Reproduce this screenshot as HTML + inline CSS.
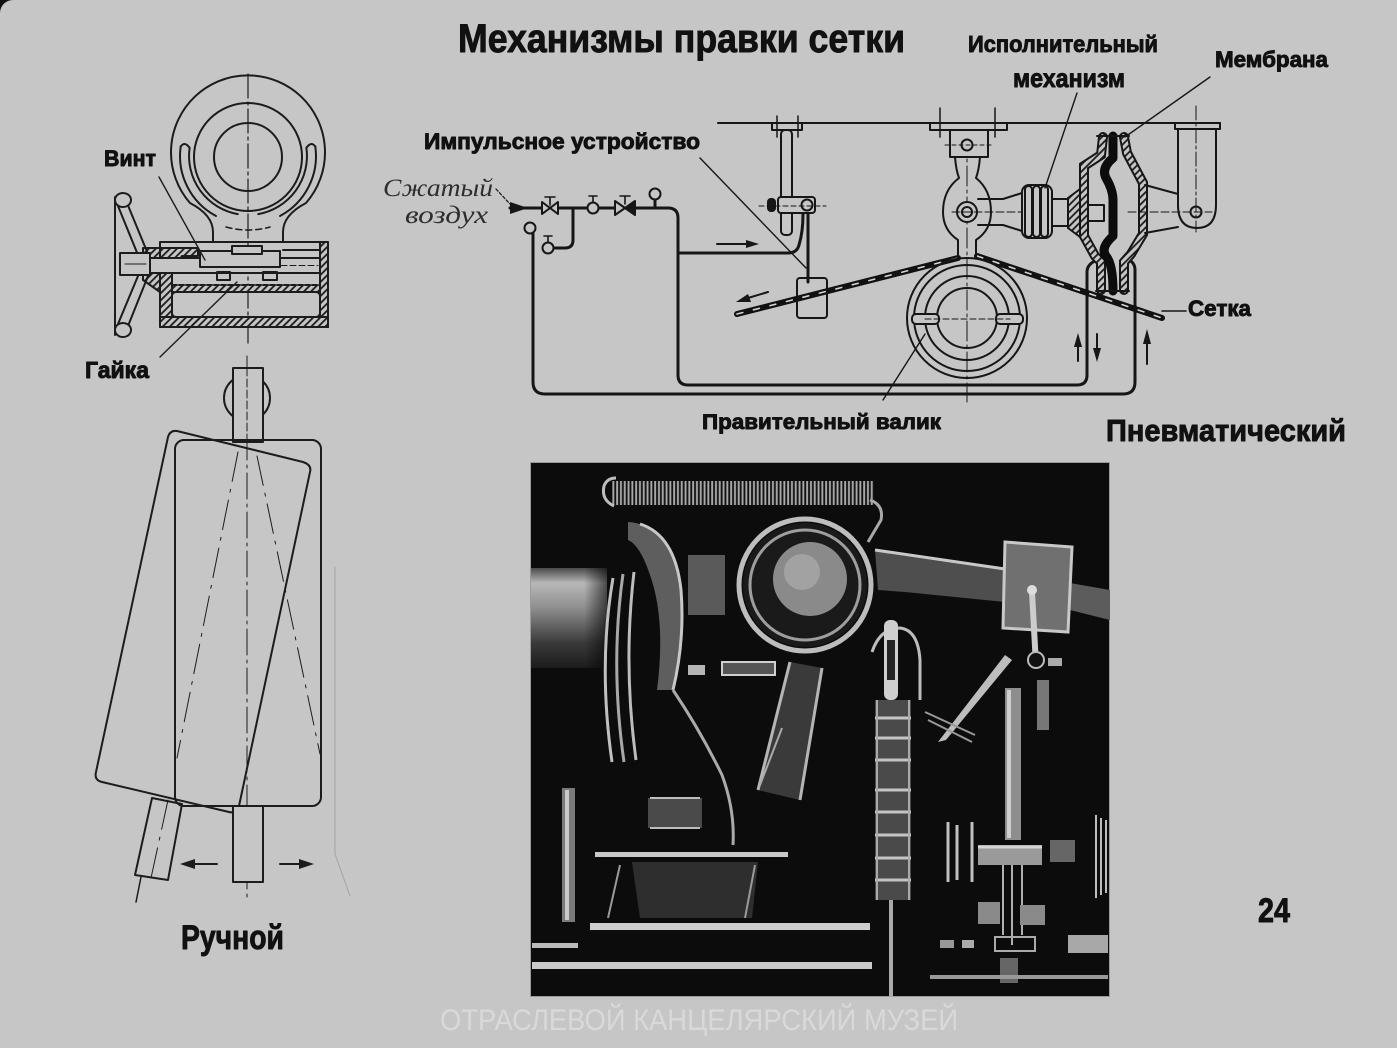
<!DOCTYPE html>
<html><head><meta charset="utf-8"><title>Механизмы правки сетки</title>
<style>
html,body{margin:0;padding:0;background:#c6c6c6;overflow:hidden;}
svg{display:block;}
.t{font-family:"Liberation Sans","DejaVu Sans",sans-serif;font-weight:bold;fill:#111;stroke:#111;stroke-width:0.9px;stroke-linejoin:round;}
.it{font-family:"Liberation Serif","DejaVu Serif",serif;font-style:italic;fill:#2e2e2e;}
.wm{font-family:"Liberation Sans","DejaVu Sans",sans-serif;fill:#d9d9d9;}
</style></head><body>
<svg width="1397" height="1048" viewBox="0 0 1397 1048" xmlns="http://www.w3.org/2000/svg">
<defs>
<pattern id="hat" width="5" height="5" patternUnits="userSpaceOnUse" patternTransform="rotate(45)">
<rect width="5" height="5" fill="#c6c6c6"/><line x1="1" y1="0" x2="1" y2="5" stroke="#1a1a1a" stroke-width="1.8"/>
</pattern>
<pattern id="spring" width="3.8" height="40" patternUnits="userSpaceOnUse">
<rect width="3.8" height="40" fill="#121212"/><rect x="0.6" width="1.9" height="40" fill="#a9a9a9"/>
</pattern>
<linearGradient id="cyl" x1="0" y1="0" x2="0" y2="1">
<stop offset="0" stop-color="#4a4a4a"/><stop offset="0.15" stop-color="#b8b8b8"/><stop offset="0.4" stop-color="#8e8e8e"/><stop offset="0.75" stop-color="#3a3a3a"/><stop offset="1" stop-color="#1c1c1c"/>
</linearGradient>
<linearGradient id="cylh" x1="0" y1="0" x2="1" y2="0">
<stop offset="0" stop-color="#000" stop-opacity="0"/><stop offset="0.7" stop-color="#000" stop-opacity="0"/><stop offset="1" stop-color="#000" stop-opacity="0.6"/>
</linearGradient>
</defs>

<rect x="0" y="0" width="1397" height="1048" fill="#c6c6c6"/>
<path d="M0,0 H13 A13,13 0 0 0 0,13 Z" fill="#111"/>

<!-- ============ Upper-left mechanism (hand) ============ -->
<g fill="none" stroke="#1c1c1c" stroke-width="2" stroke-linecap="round" stroke-linejoin="round">
 <line x1="248" y1="74" x2="248" y2="345" stroke-width="1.2" stroke-dasharray="24 4 3 4"/>
 <path d="M213,242 L213,232 Q213,215 190,203 A77,77 0 1 1 306,203 Q283,215 283,232 L283,242"/>
 <circle cx="248" cy="157" r="54"/>
 <circle cx="248" cy="157" r="34"/>
 <path d="M189.6,147.8 A59,59 0 0 0 237.8,214.1"/>
 <path d="M180.7,146.5 A68,68 0 0 0 216,216"/>
 <path d="M180.7,146.5 Q185,141 189.6,147.8"/>
 <path d="M306.4,147.8 A59,59 0 0 1 258.2,214.1"/>
 <path d="M315.3,146.5 A68,68 0 0 1 280,216"/>
 <path d="M315.3,146.5 Q311,141 306.4,147.8"/>
 <path d="M226,227 Q248,233 270,227" stroke-dasharray="6 4" stroke-width="1.5"/>

 <rect x="320" y="242" width="8" height="85" fill="url(#hat)"/>
 <rect x="160" y="317" width="168" height="10" fill="url(#hat)"/>
 <rect x="172" y="285" width="148" height="7" fill="url(#hat)" stroke-dasharray="5 2"/>
 <path d="M143,248 H198 V256 H182 L172,270 V317 H160 V292 L143,280 Z" fill="url(#hat)"/>
 <path d="M160,242 H328 V327 H160 Z"/>
 <rect x="172" y="292" width="148" height="25" rx="4"/>
 <line x1="283" y1="250" x2="320" y2="250"/>

 <rect x="120" y="258" width="200" height="15" fill="#c6c6c6"/>
 <line x1="200" y1="265.5" x2="318" y2="265.5" stroke-width="1" stroke-dasharray="6 3"/>
 <rect x="200" y="251" width="80" height="16" fill="#c6c6c6"/>
 <rect x="232" y="246" width="30" height="8" fill="#c6c6c6"/>
 <rect x="217" y="272" width="13" height="8"/>
 <rect x="263" y="272" width="14" height="8"/>

 <line x1="115" y1="197" x2="115" y2="335"/>
 <path d="M118,206 L138,255 M127,203 L148,254"/>
 <path d="M138,276 L118,324 M148,276 L128,326"/>
 <ellipse cx="123" cy="200" rx="8" ry="7" fill="#c6c6c6"/>
 <ellipse cx="123" cy="330" rx="8" ry="7" fill="#c6c6c6"/>
 <rect x="120" y="253" width="30" height="22" fill="#c6c6c6"/>
 <line x1="125" y1="264" x2="146" y2="264" stroke-width="1"/>

 <line x1="159" y1="177" x2="205" y2="260" stroke-width="1.4"/>
 <line x1="160" y1="357" x2="237" y2="282" stroke-width="1.4"/>
</g>

<!-- ============ Lower-left roller (hand) ============ -->
<g fill="none" stroke="#1c1c1c" stroke-width="2" stroke-linecap="round" stroke-linejoin="round">
 <line x1="247" y1="356" x2="247" y2="898" stroke-width="1" stroke-dasharray="26 5 3 5"/>
 <circle cx="247" cy="398" r="23"/>
 <rect x="233" y="368" width="30" height="74" fill="#c6c6c6"/>
 <line x1="247" y1="368" x2="247" y2="442" stroke-width="1" stroke-dasharray="8 3"/>
 <path d="M177,431 L303,462 Q312,465 310,472 L239,806 Q237,814 229,812 L102,782 Q94,780 96,772 L168,437 Q170,430 177,431 Z"/>
 <rect x="175" y="440" width="146" height="366" rx="9"/>
 <rect x="233" y="806" width="30" height="76" fill="#c6c6c6"/>
 <path d="M152,798 L182,804 L168,880 L135,875 Z"/>
 <line x1="141" y1="877" x2="136" y2="902" stroke-width="1.5"/>
 <g stroke-width="1" stroke-dasharray="30 8 3 8">
  <line x1="238" y1="452" x2="177" y2="758"/>
  <line x1="257" y1="456" x2="320" y2="754"/>
  <line x1="168" y1="800" x2="151" y2="878"/>
 </g>
 <line x1="193" y1="864" x2="217" y2="864"/>
 <polygon points="180,864 195,859 195,869" fill="#1c1c1c" stroke="none"/>
 <line x1="280" y1="864" x2="301" y2="864"/>
 <polygon points="314,864 299,859 299,869" fill="#1c1c1c" stroke="none"/>
 <path d="M335,567 L335,854 L350,896" stroke="#a4a4a4" stroke-width="1"/>
</g>

<!-- ============ Pneumatic diagram ============ -->
<g fill="none" stroke="#161616" stroke-width="2" stroke-linecap="round" stroke-linejoin="round">
 <line x1="718" y1="123" x2="1220" y2="123"/>
 <g stroke-width="3">
  <path d="M533,234 V382 Q533,394 545,394 H1123 Q1135,394 1135,382 V270 Q1135,262 1127,259"/>
  <path d="M510,208 H668 Q678,208 678,218 V375 Q678,385 688,385 H1077 Q1087,385 1087,375 V272 Q1087,264 1097,260"/>
  <path d="M678,253 H788 Q797,253 799,245 Q803,232 803,214"/>
  <line x1="808" y1="213" x2="808" y2="282"/>
  <path d="M573,208 V240 Q573,248 565,248 H554"/>
  <line x1="655" y1="200" x2="655" y2="208"/>
 </g>
 <circle cx="530" cy="228" r="5.5" fill="#c6c6c6"/>
 <circle cx="548" cy="248" r="5.5" fill="#c6c6c6"/>
 <circle cx="593" cy="208" r="5.5" fill="#c6c6c6"/>
 <circle cx="655" cy="194" r="5.5" fill="#c6c6c6"/>
 <path d="M542,202 L550,208 L542,214 Z M558,202 L550,208 L558,214 Z" fill="#c6c6c6"/>
 <path d="M615,201 L625,208 L615,215 Z" fill="#c6c6c6"/>
 <path d="M635,201 L625,208 L635,215 Z" fill="#161616"/>
 <path d="M550,205 V197 M545,197 H555 M625,204 V196 M620,196 H630 M593,202 V196 M589,196 H597 M548,242 V236 M544,236 H552" stroke-width="1.6"/>
 <polygon points="510,202 528,208 510,214" fill="#161616" stroke="none"/>
 <line x1="496" y1="189" x2="510" y2="204" stroke-width="1.2" stroke-dasharray="3 2"/>

 <rect x="772" y="123" width="30" height="7" fill="#c6c6c6"/>
 <path d="M777,116 V137 M798,116 V137" stroke-width="1.5"/>
 <rect x="781" y="130" width="11" height="105" rx="4" fill="#c6c6c6"/>
 <rect x="778" y="197" width="37" height="16" rx="3" fill="#c6c6c6"/>
 <rect x="768" y="199" width="7" height="12" rx="3" fill="#161616"/>
 <circle cx="807" cy="205" r="5.5" fill="#c6c6c6"/>
 <line x1="759" y1="206" x2="826" y2="206" stroke-width="1" stroke-dasharray="5 3"/>
 <rect x="797" y="278" width="30" height="40" rx="3"/>
 <line x1="700" y1="158" x2="806" y2="268" stroke-width="1.4"/>
 <line x1="717" y1="244" x2="748" y2="244"/>
 <polygon points="759,244 746,240 746,248" fill="#161616" stroke="none"/>
 <line x1="768" y1="292" x2="748" y2="298"/>
 <polygon points="736,302 748,294 751,302" fill="#161616" stroke="none"/>

 <path d="M737,314 L958,258" stroke="#111" stroke-width="6"/>
 <path d="M977,256 L1162,318" stroke="#111" stroke-width="6"/>
 <path d="M737,314 L958,258" stroke="#d2d2d2" stroke-width="1.6" stroke-dasharray="6 11"/>
 <path d="M977,256 L1162,318" stroke="#d2d2d2" stroke-width="1.6" stroke-dasharray="6 11"/>

 <line x1="967" y1="135" x2="967" y2="402" stroke-width="1" stroke-dasharray="20 4 3 4"/>
 <circle cx="967" cy="318" r="60"/>
 <circle cx="967" cy="318" r="53"/>
 <circle cx="967" cy="318" r="42"/>
 <circle cx="967" cy="318" r="30"/>
 <rect x="912" y="314" width="27" height="10" rx="4" fill="#c6c6c6"/>
 <rect x="996" y="314" width="27" height="10" rx="4" fill="#c6c6c6"/>
 <line x1="925" y1="319" x2="1010" y2="319" stroke-width="1" stroke-dasharray="6 3"/>
 <line x1="883" y1="400" x2="925" y2="334" stroke-width="1.4"/>

 <rect x="930" y="123" width="77" height="7" fill="#c6c6c6"/>
 <path d="M940,108 V137 M995,108 V137" stroke-width="1.5"/>
 <rect x="950" y="130" width="38" height="27" fill="#c6c6c6"/>
 <circle cx="967" cy="145" r="5.5"/>
 <line x1="945" y1="145" x2="992" y2="145" stroke-width="1" stroke-dasharray="4 3"/>
 <path d="M955,157 Q956,170 959,178 Q943,190 943,212 Q943,230 958,240 L958,258"/>
 <path d="M980,157 Q979,170 976,178 Q991,190 991,212 Q991,230 976,240 L976,258"/>
 <path d="M978,199 H1003 L1022,193 M978,225 H1003 L1022,231"/>
 <circle cx="967" cy="212" r="10" fill="#c6c6c6"/>
 <circle cx="967" cy="212" r="5"/>
 <line x1="952" y1="212" x2="1062" y2="212" stroke-width="1" stroke-dasharray="8 3"/>

 <rect x="1022" y="185" width="30" height="53" rx="7" fill="#c6c6c6"/>
 <rect x="1025" y="186" width="7" height="51" rx="3.5"/>
 <rect x="1033" y="186" width="7" height="51" rx="3.5"/>
 <rect x="1041" y="186" width="7" height="51" rx="3.5"/>
 <rect x="1052" y="199" width="16" height="27" fill="#c6c6c6"/>
 <rect x="1068" y="205" width="36" height="16" fill="#c6c6c6"/>
 <path d="M1068,198 L1084,186 V240 L1068,228 Z" fill="url(#hat)"/>

 <path d="M1103,137 L1101,155 L1084,166 L1084,236 L1095,256 L1101,262 L1101,290" stroke="#161616" stroke-width="10" stroke-linejoin="miter"/>
 <path d="M1103,137 L1101,155 L1084,166 L1084,236 L1095,256 L1101,262 L1101,290" stroke="url(#hat)" stroke-width="6" stroke-linejoin="miter"/>
 <path d="M1124,137 L1127,153 L1143,183 L1143,234 L1131,254 L1124,262 L1124,290" stroke="#161616" stroke-width="10" stroke-linejoin="miter"/>
 <path d="M1124,137 L1127,153 L1143,183 L1143,234 L1131,254 L1124,262 L1124,290" stroke="url(#hat)" stroke-width="6" stroke-linejoin="miter"/>
 <path d="M1113,136 L1113,158 Q1101,168 1106,178 Q1113,190 1113,200 L1113,236 Q1100,248 1106,256 Q1113,264 1113,291" stroke="#0c0c0c" stroke-width="9"/>
 <line x1="1097" y1="136" x2="1129" y2="136"/>
 <line x1="1096" y1="291" x2="1129" y2="291"/>

 <rect x="1175" y="123" width="45" height="6" fill="#c6c6c6"/>
 <path d="M1178,129 V205 Q1178,228 1197,228 Q1216,228 1216,205 V129"/>
 <circle cx="1196" cy="212" r="5.5"/>
 <line x1="1196" y1="106" x2="1196" y2="232" stroke-width="1" stroke-dasharray="14 3 3 3"/>
 <line x1="1128" y1="212" x2="1212" y2="212" stroke-width="1" stroke-dasharray="8 3"/>
 <path d="M1145,185 L1178,194 M1145,233 L1178,227"/>

 <line x1="1078" y1="345" x2="1078" y2="361"/>
 <polygon points="1078,333 1074,347 1082,347" fill="#161616" stroke="none"/>
 <line x1="1097" y1="334" x2="1097" y2="350"/>
 <polygon points="1097,362 1093,348 1101,348" fill="#161616" stroke="none"/>
 <line x1="1147" y1="342" x2="1147" y2="364"/>
 <polygon points="1147,329 1143,344 1151,344" fill="#161616" stroke="none"/>

 <line x1="1077" y1="93" x2="1045" y2="188" stroke-width="1.4"/>
 <line x1="1210" y1="77" x2="1125" y2="137" stroke-width="1.4"/>
 <line x1="1162" y1="311" x2="1186" y2="311" stroke-width="1.6"/>
</g>

<!-- ============ Photo ============ -->
<g>
 <rect x="530" y="462" width="580" height="535" fill="#0c0c0c"/>
 <rect x="530.5" y="462.5" width="579" height="534" fill="none" stroke="#9a9a9a" stroke-width="1"/>
 <rect x="612" y="481" width="262" height="24" fill="url(#spring)"/>
 <path d="M614,506 Q601,500 604,486 Q607,478 616,478" stroke="#bdbdbd" stroke-width="3" fill="none"/>
 <path d="M870,500 Q884,505 881,520 L868,542" stroke="#a8a8a8" stroke-width="3" fill="none"/>
 <rect x="531" y="568" width="76" height="100" fill="url(#cyl)"/>
 <rect x="531" y="568" width="76" height="100" fill="url(#cylh)"/>
 <path d="M628,522 Q672,525 681,590 Q685,640 673,690 L657,690 Q666,620 650,575 Q640,545 628,540 Z" fill="#5e5e5e"/>
 <path d="M640,524 Q675,535 681,590 Q685,640 673,690" stroke="#c8c8c8" stroke-width="3" fill="none"/>
 <path d="M613,578 Q598,665 612,762" stroke="#c0c0c0" stroke-width="3" fill="none"/>
 <path d="M623,574 Q610,665 624,762" stroke="#a8a8a8" stroke-width="3" fill="none"/>
 <path d="M634,572 Q623,665 636,760" stroke="#bdbdbd" stroke-width="3" fill="none"/>
 <path d="M673,690 Q700,730 722,775 Q735,810 733,845" stroke="#aaaaaa" stroke-width="3" fill="none"/>
 <rect x="688" y="555" width="37" height="60" fill="#5a5a5a"/>
 <circle cx="805" cy="585" r="62" fill="#1a1a1a"/>
 <circle cx="805" cy="585" r="66" fill="none" stroke="#bdbdbd" stroke-width="5"/>
 <circle cx="805" cy="585" r="55" fill="none" stroke="#9e9e9e" stroke-width="3"/>
 <circle cx="810" cy="579" r="37" fill="#8a8a8a"/>
 <circle cx="802" cy="572" r="18" fill="#a2a2a2"/>
 <rect x="722" y="662" width="53" height="13" fill="#555" stroke="#cfcfcf" stroke-width="2"/>
 <rect x="688" y="665" width="17" height="10" fill="#b5b5b5"/>
 <polygon points="790,662 822,668 800,800 758,790" fill="#3a3a3a"/>
 <path d="M790,662 L758,790 M822,668 L800,800" stroke="#b5b5b5" stroke-width="3" fill="none"/>
 <path d="M782,728 L760,785" stroke="#aaa" stroke-width="2" fill="none"/>
 <rect x="648" y="798" width="54" height="30" fill="#4a4a4a"/>
 <path d="M650,798 H700 M650,828 H700" stroke="#bdbdbd" stroke-width="2"/>
 <rect x="595" y="852" width="193" height="5" fill="#c8c8c8"/>
 <polygon points="632,862 758,862 752,918 640,918" fill="#2e2e2e"/>
 <path d="M620,865 L608,918 M755,865 L745,918" stroke="#9a9a9a" stroke-width="2"/>
 <rect x="562" y="788" width="13" height="134" fill="#7a7a7a"/>
 <rect x="565" y="790" width="4" height="130" fill="#c8c8c8"/>
 <rect x="590" y="923" width="280" height="7" fill="#cfcfcf"/>
 <rect x="532" y="943" width="46" height="5" fill="#bbbbbb"/>
 <rect x="532" y="962" width="340" height="7" fill="#c9c9c9"/>
 <path d="M872,652 Q880,628 900,628 Q918,630 920,660 V700" stroke="#bdbdbd" stroke-width="3" fill="none"/>
 <rect x="884" y="620" width="14" height="80" rx="6" fill="#cfcfcf"/>
 <rect x="887" y="640" width="8" height="40" fill="#222"/>
 <rect x="875" y="700" width="36" height="200" fill="#4a4a4a"/>
 <path d="M875,718 H911 M875,738 H911 M875,760 H911 M875,790 H911 M875,812 H911 M875,835 H911 M875,858 H911 M875,880 H911" stroke="#c4c4c4" stroke-width="3"/>
 <path d="M877,700 V900 M909,700 V900" stroke="#aaaaaa" stroke-width="2"/>
 <rect x="889" y="900" width="4" height="97" fill="#aaaaaa"/>
 <polygon points="875,550 1005,569 1005,602 905,592 878,590" fill="#4e4e4e"/>
 <path d="M875,550 L1005,569" stroke="#c8c8c8" stroke-width="3"/>
 <polygon points="1070,583 1110,590 1110,620 1070,610" fill="#5c5c5c"/>
 <polygon points="1005,542 1072,547 1068,632 1003,628" fill="#707070" stroke="#c8c8c8" stroke-width="3"/>
 <line x1="1032" y1="592" x2="1036" y2="665" stroke="#cccccc" stroke-width="6"/>
 <circle cx="1032" cy="590" r="5" fill="#dddddd"/>
 <circle cx="1036" cy="660" r="8" fill="#111" stroke="#bbb" stroke-width="2"/>
 <rect x="1048" y="658" width="14" height="8" fill="#aaa"/>
 <polygon points="938,742 1005,655 1012,660 946,740" fill="#bdbdbd"/>
 <path d="M925,712 L975,735 M928,720 L972,742" stroke="#999" stroke-width="2"/>
 <rect x="1005" y="688" width="16" height="152" fill="#8e8e8e"/>
 <rect x="1007" y="690" width="4" height="148" fill="#cfcfcf"/>
 <rect x="1037" y="680" width="12" height="50" fill="#777"/>
 <rect x="978" y="845" width="64" height="20" fill="#9a9a9a"/>
 <path d="M978,847 H1042" stroke="#d4d4d4" stroke-width="3"/>
 <path d="M1003,865 V935 M1012,865 V945 M1022,865 V935" stroke="#b0b0b0" stroke-width="2"/>
 <path d="M948,822 V882 M957,825 V880 M972,822 V882" stroke="#c0c0c0" stroke-width="3"/>
 <path d="M1096,815 V898 M1101,818 V895 M1106,820 V893" stroke="#bdbdbd" stroke-width="2"/>
 <rect x="1050" y="840" width="25" height="22" fill="#666"/>
 <rect x="978" y="902" width="22" height="22" fill="#8a8a8a"/>
 <rect x="1020" y="905" width="25" height="20" fill="#8a8a8a"/>
 <rect x="940" y="940" width="14" height="8" fill="#999"/>
 <rect x="962" y="940" width="12" height="8" fill="#aaa"/>
 <rect x="995" y="937" width="40" height="14" fill="none" stroke="#aaa" stroke-width="2"/>
 <rect x="1068" y="935" width="40" height="18" fill="#a8a8a8"/>
 <rect x="1000" y="958" width="18" height="25" fill="#666"/>
 <rect x="930" y="975" width="178" height="4" fill="#999"/>
</g>

<!-- ============ Text ============ -->
<text class="t" x="458" y="52" font-size="40" textLength="447" lengthAdjust="spacingAndGlyphs">Механизмы правки сетки</text>
<text class="t" x="104" y="166" font-size="22" textLength="52" lengthAdjust="spacingAndGlyphs">Винт</text>
<text class="t" x="85" y="378" font-size="23" textLength="64" lengthAdjust="spacingAndGlyphs">Гайка</text>
<text class="t" x="181" y="949" font-size="34" textLength="103" lengthAdjust="spacingAndGlyphs">Ручной</text>
<text class="t" x="424" y="149" font-size="22" textLength="276" lengthAdjust="spacingAndGlyphs">Импульсное устройство</text>
<text class="it" x="383" y="196" font-size="25" textLength="110" lengthAdjust="spacingAndGlyphs">Сжатый</text>
<text class="it" x="405" y="223" font-size="25" textLength="83" lengthAdjust="spacingAndGlyphs">воздух</text>
<text class="t" x="968" y="52" font-size="23" textLength="190" lengthAdjust="spacingAndGlyphs">Исполнительный</text>
<text class="t" x="1013" y="87" font-size="26" textLength="112" lengthAdjust="spacingAndGlyphs">механизм</text>
<text class="t" x="1215" y="67" font-size="22" textLength="113" lengthAdjust="spacingAndGlyphs">Мембрана</text>
<text class="t" x="1188" y="316" font-size="22" textLength="63" lengthAdjust="spacingAndGlyphs">Сетка</text>
<text class="t" x="702" y="429" font-size="21" textLength="239" lengthAdjust="spacingAndGlyphs">Правительный валик</text>
<text class="t" x="1106" y="441" font-size="31" textLength="240" lengthAdjust="spacingAndGlyphs">Пневматический</text>
<text class="t" x="1258" y="922" font-size="34" textLength="32" lengthAdjust="spacingAndGlyphs">24</text>
<text class="wm" x="440" y="1030" font-size="30" textLength="518" lengthAdjust="spacingAndGlyphs">ОТРАСЛЕВОЙ КАНЦЕЛЯРСКИЙ МУЗЕЙ</text>
</svg>
</body></html>
